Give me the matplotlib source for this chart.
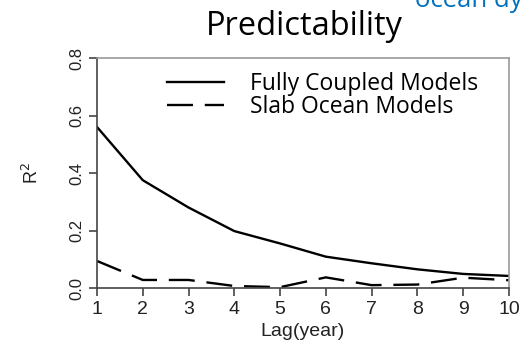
#!/usr/bin/env python3
"""
Predictability of R^2 vs lag: fully coupled vs slab ocean models
"""

import matplotlib
matplotlib.use('Agg')
import matplotlib.pyplot as plt

# data
lags = [1, 2, 3, 4, 5, 6, 7, 8, 9, 10]
coupled = [0.56, 0.375, 0.28, 0.198, 0.155, 0.109, 0.086, 0.065, 0.049, 0.042]
slab = [0.094, 0.028, 0.028, 0.007, 0.003, 0.037, 0.010, 0.012, 0.036, 0.027]
yticks = [0.0, 0.2, 0.4, 0.6, 0.8]
ytick_labels = ['0.0', '0.2', '0.4', '0.6', '0.8']

fig = plt.figure(figsize=(5.29, 3.40), dpi=100)
ax = fig.add_axes([0.1834, 0.1529, 0.7786, 0.6765])

ax.plot(lags, coupled, color='black', linewidth=1.7, label='Fully Coupled Models')
ax.plot(lags, slab, color='black', linewidth=1.7, dashes=(11, 5), label='Slab Ocean Models')

ax.set_xlim(1, 10)
ax.set_ylim(0, 0.8)
ax.set_xticks(lags)
ax.set_yticks(yticks)
ax.set_yticklabels(ytick_labels, rotation=90, va='center')

for side in ['top', 'right']:
    ax.spines[side].set_color('#9a9a9a')
    ax.spines[side].set_linewidth(1.2)
for side in ['left', 'bottom']:
    ax.spines[side].set_color('#444444')
    ax.spines[side].set_linewidth(1.2)

ax.tick_params(direction='out', length=6, width=1.2, color='#444444', pad=3)
ax.tick_params(axis='x', labelsize=14)
ax.tick_params(axis='y', labelsize=12)
for lbl in ax.get_xticklabels() + ax.get_yticklabels():
    lbl.set_family('Liberation Sans')
    lbl.set_color('#222222')

ax.set_xlabel('Lag(year)', family='Liberation Sans', fontsize=14, color='#222222', labelpad=4)
ax.set_ylabel('R$^2$', family='Liberation Sans', fontsize=13, color='#222222', labelpad=20)

leg = ax.legend(loc='upper left', bbox_to_anchor=(0.17, 0.94), frameon=False,
                borderpad=0, borderaxespad=0,
                handlelength=2.5, handletextpad=1.1, labelspacing=-0.05,
                prop={'family': 'Open Sans', 'size': 16.5})

fig.text(0.576, 0.897, 'Predictability', family='Open Sans', fontsize=23.5,
         ha='center', va='baseline')
fig.text(0.785, 0.979, 'ocean dy', family='Open Sans', fontsize=18.5,
         color='#0070c0', ha='left', va='baseline')

plt.savefig('out.png', dpi=100)
plt.close()
